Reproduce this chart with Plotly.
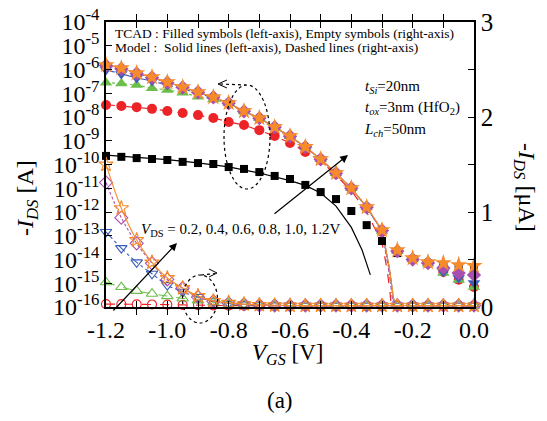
import plotly.graph_objects as go

# ---------------- data ----------------
V_GS = [-1.2, -1.15, -1.1, -1.05, -1.0, -0.95, -0.9, -0.85, -0.8, -0.75, -0.7, -0.65,
        -0.6, -0.55, -0.5, -0.45, -0.4, -0.35, -0.3, -0.25, -0.2, -0.15, -0.1, -0.05, 0.0]

# TCAD, filled symbols, left (log) axis, -I_DS in A
tcad_log_02 = [2.3e-10, 2.1e-10, 1.86e-10, 1.7e-10, 1.55e-10, 1.29e-10, 1.15e-10, 1.05e-10, 7.8e-11,
               6.5e-11, 4.8e-11, 3.3e-11, 2.45e-11, 1.38e-11, 6.9e-12, 3.5e-12, 1.1e-12, 2.8e-13,
               6.0e-14, 1.86e-14, 1.05e-14, 7.1e-15, 5.9e-15, 4.8e-15, 4.4e-15]
tcad_log_04 = [3.2e-8, 2.9e-8, 2.6e-8, 2.2e-8, 1.78e-8, 1.48e-8, 1.2e-8, 9.1e-9, 6.2e-9, 4.6e-9,
               2.8e-9, 1.58e-9, 8.1e-10, 3.4e-10, 1.55e-10, 4.0e-11, 9.3e-12, 1.48e-12, 1.45e-13,
               2.1e-14, 1.05e-14, 7.1e-15, 3.0e-15, 1.4e-15, 7.0e-16]
tcad_log_06 = [2.8e-7, 2.6e-7, 2.24e-7, 1.62e-7, 1.38e-7, 1.05e-7, 7.2e-8, 5.5e-8, 3.8e-8, 1.7e-8,
               8.9e-9, 3.7e-9, 1.55e-9, 5.4e-10, 1.66e-10, 4.3e-11, 1.0e-11, 1.55e-12, 1.6e-13,
               2.2e-14, 1.0e-14, 6.6e-15, 2.7e-15, 1.38e-15, 6.9e-16]
tcad_log_08 = [9.5e-7, 6.5e-7, 4.4e-7, 3.3e-7, 2.24e-7, 1.51e-7, 1.02e-7, 6.3e-8, 3.9e-8, 1.74e-8,
               8.9e-9, 3.7e-9, 1.55e-9, 5.4e-10, 1.66e-10, 4.3e-11, 1.0e-11, 1.55e-12, 1.6e-13,
               2.2e-14, 1.0e-14, 6.8e-15, 3.0e-15, 1.66e-15, 1.02e-15]
tcad_log_10 = [1.48e-6, 1.07e-6, 6.8e-7, 4.6e-7, 2.8e-7, 1.78e-7, 1.1e-7, 6.8e-8, 3.8e-8, 1.74e-8,
               8.9e-9, 3.7e-9, 1.55e-9, 5.4e-10, 1.66e-10, 4.3e-11, 1.0e-11, 1.58e-12, 1.66e-13,
               2.24e-14, 1.0e-14, 7.1e-15, 4.4e-15, 2.7e-15, 2.24e-15]
tcad_log_12 = [1.55e-6, 1.15e-6, 7.1e-7, 4.8e-7, 2.95e-7, 1.82e-7, 1.12e-7, 6.9e-8, 3.9e-8, 1.78e-8,
               9.1e-9, 3.8e-9, 1.58e-9, 5.5e-10, 1.7e-10, 4.4e-11, 1.02e-11, 1.62e-12, 1.74e-13,
               2.5e-14, 1.15e-14, 7.8e-15, 7.1e-15, 5.9e-15, 5.4e-15]

# TCAD, empty symbols, right (linear) axis, -I_DS in uA
tcad_lin_04 = [0.03, 0.03, 0.028, 0.027, 0.025, 0.022, 0.02, 0.017, 0.015, 0.013, 0.012, 0.011,
               0.01, 0.01, 0.01, 0.01, 0.01, 0.01, 0.01, 0.01, 0.01, 0.01, 0.01, 0.01, 0.01]
tcad_lin_06 = [0.26, 0.21, 0.17, 0.14, 0.115, 0.09, 0.07, 0.05, 0.035, 0.025, 0.02, 0.016,
               0.015, 0.015, 0.015, 0.015, 0.015, 0.015, 0.015, 0.015, 0.015, 0.015, 0.015, 0.015, 0.015]
tcad_lin_08 = [0.79, 0.62, 0.47, 0.35, 0.23, 0.16, 0.105, 0.06, 0.04, 0.028, 0.02, 0.017,
               0.015, 0.015, 0.015, 0.015, 0.015, 0.015, 0.015, 0.015, 0.015, 0.015, 0.015, 0.015, 0.015]
tcad_lin_10 = [1.31, 0.94, 0.67, 0.46, 0.29, 0.2, 0.105, 0.06, 0.04, 0.028, 0.02, 0.017,
               0.015, 0.015, 0.015, 0.015, 0.015, 0.015, 0.015, 0.015, 0.015, 0.015, 0.015, 0.015, 0.015]
tcad_lin_12 = [1.5, 1.04, 0.705, 0.47, 0.305, 0.2, 0.116, 0.063, 0.045, 0.03, 0.022, 0.018,
               0.016, 0.015, 0.015, 0.015, 0.015, 0.015, 0.015, 0.015, 0.015, 0.015, 0.015, 0.015, 0.015]

# Model, left (log) axis
V_model = [-1.2, -1.15, -1.1, -1.05, -1.0, -0.95, -0.9, -0.85, -0.8, -0.75, -0.7, -0.65, -0.6,
           -0.55, -0.5, -0.45, -0.4, -0.35, -0.3, -0.285, -0.275, -0.265, -0.258, -0.25]
model_log_04 = [3.3e-8, 2.9e-8, 2.6e-8, 2.2e-8, 1.8e-8, 1.5e-8, 1.2e-8, 9.1e-9, 6.2e-9, 4.6e-9,
                2.8e-9, 1.58e-9, 8.1e-10, 3.4e-10, 1.45e-10, 3.5e-11, 7.9e-12, 1.0e-12, 5.0e-14,
                5.0e-15, 6.0e-16, 2.0e-17, 1e-18, 1e-19]
model_log_06 = [2.9e-7, 2.6e-7, 2.2e-7, 1.65e-7, 1.38e-7, 1.05e-7, 7.2e-8, 5.5e-8, 3.8e-8, 1.72e-8,
                8.9e-9, 3.7e-9, 1.55e-9, 5.4e-10, 1.66e-10, 4.3e-11, 1.0e-11, 1.6e-12, 1.65e-13,
                1.7e-14, 3.4e-15, 3.7e-16, 1.0e-16, 1e-18]
model_log_08 = [9.8e-7, 6.6e-7, 4.4e-7, 3.3e-7, 2.24e-7, 1.51e-7, 1.02e-7, 6.3e-8, 3.9e-8, 1.74e-8,
                8.9e-9, 3.7e-9, 1.55e-9, 5.4e-10, 1.66e-10, 4.3e-11, 1.0e-11, 1.6e-12, 1.68e-13,
                1.75e-14, 3.5e-15, 3.8e-16, 1.0e-16, 1e-18]
model_log_10 = [1.5e-6, 1.08e-6, 6.9e-7, 4.6e-7, 2.85e-7, 1.8e-7, 1.1e-7, 6.8e-8, 3.8e-8, 1.74e-8,
                8.9e-9, 3.7e-9, 1.55e-9, 5.4e-10, 1.66e-10, 4.3e-11, 1.0e-11, 1.55e-12, 1.5e-13,
                1.2e-14, 2.0e-15, 1.8e-16, 3.0e-17, 1e-18]
model_log_12 = [1.6e-6, 1.16e-6, 7.1e-7, 4.8e-7, 2.95e-7, 1.82e-7, 1.12e-7, 6.9e-8, 3.9e-8, 1.78e-8,
                9.1e-9, 3.8e-9, 1.58e-9, 5.5e-10, 1.7e-10, 4.4e-11, 1.02e-11, 1.62e-12, 1.74e-13,
                1.86e-14, 3.6e-15, 3.9e-16, 1.0e-16, 1e-18]
V_model_02 = [-1.2, -1.1, -1.0, -0.9, -0.8, -0.7, -0.6, -0.55, -0.5, -0.45, -0.4, -0.365, -0.35, -0.338]
model_log_02 = [2.5e-10, 2.0e-10, 1.6e-10, 1.17e-10, 7.9e-11, 4.4e-11, 2.1e-11, 1.32e-11, 6.3e-12,
                1.78e-12, 2.24e-13, 2.5e-14, 6.3e-15, 2.24e-15]

VDS_LABELS = ["0.2", "0.4", "0.6", "0.8", "1.0", "1.2"]
X_TICKS = [-1.2, -1.1, -1.0, -0.9, -0.8, -0.7, -0.6, -0.5, -0.4, -0.3, -0.2, -0.1, 0.0]
X_TICKTEXT = ["-1.2", "", "-1.0", "", "-0.8", "", "-0.6", "", "-0.4", "", "-0.2", "", "0.0"]
Y_EXP = [-4, -5, -6, -7, -8, -9, -10, -11, -12, -13, -14, -15, -16]
Y2_TICKS = [0, 0.5, 1, 1.5, 2, 2.5, 3]
Y2_TICKTEXT = ["0", "", "1", "", "2", "", "3"]

# ---------------- figure ----------------
# page body has an 8px margin: the figure is placed at (8, 8) in the page
OFF = 8
W, H = 547 - 2 * OFF, 421 - 2 * OFF
L, R, T, B = 106, 474, 22, 307          # plot-area edges in page pixels
FONT = "Liberation Serif"


def px(x):
    return (x - L) / (R - L)


def py(y):
    return (B - y) / (B - T)


C_BLK, C_RED, C_GRN, C_BLU, C_MAG, C_ORG = "#000000", "#EC2327", "#6DBE4B", "#3A5DB5", "#A94FB0", "#F68B2C"

fig = go.Figure()

# model lines, log axis
log_models = [
    (V_model_02, model_log_02, C_BLK, "solid"),
    (V_model, model_log_04, C_RED, "dash"),
    (V_model, model_log_06, C_GRN, "dot"),
    (V_model, model_log_08, C_BLU, "dashdot"),
    (V_model, model_log_10, C_MAG, "4px,2px,1px,2px"),
    (V_model, model_log_12, C_ORG, "solid"),
]
for xv, yv, c, d in log_models:
    fig.add_trace(go.Scatter(x=xv, y=yv, mode="lines", line=dict(color=c, width=1.2, dash=d),
                             showlegend=False, hoverinfo="skip"))

# model lines + empty symbols, linear axis
lin_series = [
    (tcad_lin_04, C_RED, "circle-open", 9, "dash"),
    (tcad_lin_06, C_GRN, "triangle-up-open", 10, "dash"),
    (tcad_lin_08, C_BLU, "triangle-down-open", 10, "dashdot"),
    (tcad_lin_10, C_MAG, "diamond-open", 10, "3px,2px"),
    (tcad_lin_12, C_ORG, "star-open", 11, "solid"),
]
for yv, c, sym, sz, d in lin_series:
    fig.add_trace(go.Scatter(x=V_GS, y=yv, yaxis="y2", mode="lines+markers",
                             line=dict(color=c, width=1.1, dash=d, shape="spline"),
                             marker=dict(symbol=sym, size=sz, color=c, line=dict(width=1.1, color=c)),
                             cliponaxis=False, showlegend=False, hoverinfo="skip"))

# filled symbols, log axis
log_series = [
    (tcad_log_02, C_BLK, "square", 8),
    (tcad_log_04, C_RED, "circle", 10),
    (tcad_log_06, C_GRN, "triangle-up", 11),
    (tcad_log_08, C_BLU, "triangle-down", 11),
    (tcad_log_10, C_MAG, "diamond", 11),
    (tcad_log_12, C_ORG, "star", 13),
]
for yv, c, sym, sz in log_series:
    fig.add_trace(go.Scatter(x=V_GS, y=yv, mode="markers",
                             marker=dict(symbol=sym, size=sz, color=c, line=dict(width=0)),
                             cliponaxis=False, showlegend=False, hoverinfo="skip"))

axis_common = dict(showline=True, linecolor="black", linewidth=1.5, showgrid=False, zeroline=False,
                   ticks="inside", tickcolor="black", ticklen=6, tickwidth=1.2, automargin=False,
                   ticklabeloverflow="allow")

fig.update_layout(
    width=W, height=H,
    margin=dict(l=L - OFF, r=W - (R - OFF), t=T - OFF, b=H - (B - OFF), pad=0),
    paper_bgcolor="white", plot_bgcolor="white",
    font=dict(family=FONT, color="black"),
    showlegend=False,
    xaxis=dict(range=[-1.2, 0.0], tickmode="array", tickvals=X_TICKS, ticktext=X_TICKTEXT,
               mirror="allticks", tickfont=dict(size=24, family=FONT), **axis_common),
    yaxis=dict(type="log", range=[-16, -4], tickmode="array",
               tickvals=[10.0 ** e for e in Y_EXP],
               ticktext=["10<sup>%d</sup>" % e for e in Y_EXP],
               tickfont=dict(size=24, family=FONT), **axis_common),
    yaxis2=dict(overlaying="y", side="right", range=[0, 3], tickmode="array",
                tickvals=Y2_TICKS, ticktext=Y2_TICKTEXT,
                tickfont=dict(size=25, family=FONT), **axis_common),
)

ann = []


def text(xp, yp, s, size, anchor="left", angle=0):
    ann.append(dict(x=px(xp), y=py(yp), xref="paper", yref="paper", text=s, showarrow=False,
                    xanchor=anchor, yanchor="middle", textangle=angle,
                    font=dict(size=size, family=FONT, color="black")))


text(113, 33, "TCAD : Filled symbols (left-axis), Empty symbols (right-axis)", 13.5)
text(113, 48, "Model :\u00a0 Solid lines (left-axis), Dashed lines (right-axis)", 13.5)
text(363, 87, "<i>t</i><sub><i>Si</i></sub>=20nm", 15)
text(363, 108, "<i>t</i><sub><i>ox</i></sub>=3nm (HfO<sub>2</sub>)", 15)
text(362, 130, "<i>L</i><sub><i>ch</i></sub>=50nm", 15)
text(139, 230, "<i>V</i><sub>DS</sub> = " + ", ".join(VDS_LABELS) + "V", 15)
text(27, 198, "-<i>I</i><sub><i>DS</i></sub> [A]", 24, "center", -90)
text(525, 187, "-<i>I</i><sub><i>DS</i></sub> [μA]", 24, "center", 90)
text(287, 354, "<i>V</i><sub><i>GS</i></sub> [V]", 23, "center")
text(280, 400, "(a)", 23, "center")


def arrow(hx, hy, tx, ty):
    ann.append(dict(x=px(hx), y=py(hy), xref="paper", yref="paper", ax=tx - hx, ay=ty - hy,
                    axref="pixel", ayref="pixel", text="", showarrow=True, arrowhead=2,
                    arrowsize=1.3, arrowwidth=1.2, arrowcolor="black", standoff=0, startstandoff=0))


arrow(348, 155, 273, 215)
arrow(177, 243, 112, 312)

fig.update_layout(annotations=ann)

dot = dict(color="black", width=1.2, dash="dot")
sol = dict(color="black", width=1.0)
shapes = [
    dict(type="circle", xref="paper", yref="paper", x0=px(224), x1=px(270), y0=py(189), y1=py(85), line=dot),
    dict(type="line", xref="paper", yref="paper", x0=px(220), y0=py(84), x1=px(246), y1=py(85), line=dot),
    dict(type="path", xref="paper", yref="paper",
         path="M %f,%f L %f,%f L %f,%f" % (px(227), py(80), px(218), py(84), px(227), py(88)), line=sol),
    dict(type="circle", xref="paper", yref="paper", x0=px(182.5), x1=px(217.5), y0=py(323), y1=py(275), line=dot),
    dict(type="line", xref="paper", yref="paper", x0=px(201), y0=py(275), x1=px(215), y1=py(273.5), line=dot),
    dict(type="path", xref="paper", yref="paper",
         path="M %f,%f L %f,%f L %f,%f" % (px(209), py(269), px(217), py(273), px(209), py(277)), line=sol),
]
fig.update_layout(shapes=shapes)

fig.write_html("out.html")
